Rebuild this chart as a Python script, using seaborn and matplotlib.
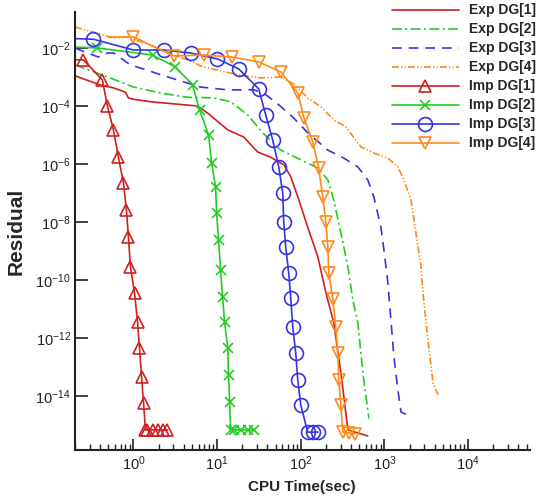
import numpy as np
import pandas as pd
import matplotlib
matplotlib.use("Agg")
import matplotlib.pyplot as plt
import matplotlib.ticker as mticker
import seaborn as sns

# ---- data (CPU time [s], residual) ----
exp1_t = [0.2, 0.40, 0.58, 0.80, 0.87, 1.0, 1.6, 4.0, 5.8, 7.7, 13.4, 20.8, 30.5, 43.7, 63, 76, 95, 121, 160, 200, 248, 302, 366, 632]
exp1_r = [1.1e-3, 5.3e-4, 4.2e-4, 3.0e-4, 1.9e-4, 1.7e-4, 1.4e-4, 1.1e-4, 1.0e-4, 5.7e-5, 1.5e-5, 8.5e-6, 2.6e-6, 1.7e-6, 9.3e-7, 3.6e-7, 5.7e-8, 6.7e-9, 6.3e-10, 3.6e-11, 3.3e-12, 6.3e-14, 6.8e-16, 4.2e-16]

exp2_t = [0.2, 0.49, 1.0, 2.1, 4.4, 9.1, 14.5, 23.2, 35, 57.6, 100, 160, 211, 248, 302, 366, 420, 482, 553, 652]
exp2_r = [2.6e-3, 1.0e-3, 4.5e-4, 2.8e-4, 2.0e-4, 1.9e-4, 1.4e-4, 4.9e-5, 1.2e-5, 3.0e-6, 1.4e-6, 7.3e-7, 2.8e-7, 5.7e-8, 4.2e-9, 2.8e-10, 2.0e-11, 3.3e-12, 6.3e-14, 1.7e-15]

exp3_t = [0.2, 0.28, 0.38, 0.49, 0.58, 0.92, 1.47, 2.1, 4.4, 6.3, 13.4, 27.4, 36, 54.6, 82, 121, 211, 327, 482, 634, 748, 908, 986, 1100, 1300, 1450, 1580, 1910]
exp3_r = [1.0e-2, 6.7e-3, 4.9e-3, 6.7e-3, 6.7e-3, 2.6e-3, 1.7e-3, 1.2e-3, 6.2e-4, 4.5e-4, 3.6e-4, 3.6e-4, 2.8e-4, 1.1e-4, 3.9e-5, 1.2e-5, 3.0e-6, 1.6e-6, 7.9e-7, 2.8e-7, 7.2e-8, 6.7e-9, 1.1e-9, 7.9e-11, 2.2e-13, 1.6e-14, 2.8e-15, 2.2e-15]

exp4_t = [0.2, 0.33, 0.58, 0.85, 1.32, 1.94, 3.0, 5.2, 6.3, 11.0, 20.8, 33.2, 57.6, 82.4, 121, 174, 248, 346, 523, 748, 1100, 1450, 1710, 2080, 2380, 2740, 2890, 3320, 3810, 4370]
exp4_r = [5.3e-2, 3.5e-2, 2.2e-2, 2.4e-2, 1.5e-2, 1.0e-2, 5.7e-3, 3.3e-3, 2.4e-3, 1.6e-3, 1.1e-3, 9.3e-4, 1.0e-3, 5.7e-4, 1.9e-4, 9.3e-5, 3.3e-5, 1.9e-5, 3.9e-6, 2.4e-6, 1.6e-6, 7.9e-7, 2.8e-7, 5.7e-8, 4.2e-9, 2.8e-10, 3.6e-11, 8.5e-13, 2.8e-14, 1.1e-14]

imp1_t = [0.2, 0.252, 0.425, 0.488, 0.576, 0.661, 0.759, 0.824, 0.871, 0.92, 1.03, 1.12, 1.18, 1.25, 1.32, 1.39, 1.47, 1.69, 1.95, 2.24, 2.55]
imp1_r = [3.9e-3, 3.9e-3, 7.9e-4, 1.0e-4, 1.5e-5, 1.7e-6, 2.2e-7, 2.6e-8, 3.0e-9, 2.8e-10, 3.6e-11, 3.5e-12, 4.5e-13, 4.6e-14, 5.8e-15, 6.8e-16, 6.8e-16, 6.8e-16, 6.8e-16, 6.8e-16, 6.8e-16]

imp2_t = [0.2, 0.371, 1.69, 3.18, 5.09, 6.17, 7.91, 8.59, 9.6, 9.86, 10.4, 11.0, 11.6, 12.3, 13.4, 13.7, 14.1, 14.5, 15.8, 19.1, 23.2, 27.4]
imp2_r = [1.08e-2, 1.0e-2, 5.7e-3, 2.2e-3, 5.3e-4, 7.3e-5, 1.0e-5, 1.07e-6, 1.6e-7, 2.0e-8, 2.4e-9, 2.2e-10, 2.6e-11, 3.5e-12, 4.5e-13, 5.3e-14, 6.3e-15, 6.8e-16, 6.8e-16, 6.8e-16, 6.8e-16, 6.8e-16]

imp3_t = [0.2, 0.332, 1.0, 2.29, 4.81, 10.1, 18.1, 31.4, 38.1, 46.2, 54.6, 60.9, 62.6, 66.1, 71.8, 75.9, 80.2, 87.1, 92.1, 100, 121, 139, 160]
imp3_r = [2.1e-2, 2.0e-2, 8.5e-3, 8.5e-3, 6.7e-3, 4.2e-3, 1.9e-3, 3.9e-4, 4.9e-5, 6.7e-6, 7.9e-7, 1.0e-7, 1.0e-8, 1.4e-9, 1.7e-10, 2.4e-11, 2.4e-12, 3.0e-13, 3.5e-14, 4.9e-15, 5.7e-16, 5.7e-16, 5.7e-16]

imp4_t = [0.5, 1.0, 3.01, 6.89, 14.9, 31.4, 57.6, 92.1, 109, 139, 164, 183, 199, 211, 216, 242, 262, 277, 285, 301, 318, 376, 443]
imp4_r = [2.4e-2, 2.4e-2, 5.3e-3, 5.7e-3, 4.9e-3, 3.3e-3, 1.5e-3, 2.8e-4, 3.9e-5, 5.7e-6, 7.3e-7, 7.2e-8, 1.0e-8, 1.4e-9, 1.7e-10, 2.2e-11, 2.4e-12, 3.0e-13, 3.5e-14, 4.9e-15, 5.7e-16, 5.3e-16, 5.0e-16]

RED, GREEN, BLUE, ORANGE = "#D02020", "#22CC22", "#3535E0", "#FF8A1C"

series = [
    ("Exp DG[1]", exp1_t, exp1_r, RED, "-", None, 0),
    ("Exp DG[2]", exp2_t, exp2_r, GREEN, (0, (7, 2.5, 1.5, 2.5)), None, 0),
    ("Exp DG[3]", exp3_t, exp3_r, BLUE, (0, (7, 5)), None, 0),
    ("Exp DG[4]", exp4_t, exp4_r, ORANGE, (0, (5, 1.5, 1, 1.5, 1, 1.5)), None, 0),
    ("Imp DG[1]", imp1_t, imp1_r, RED, "-", "^", 9),
    ("Imp DG[2]", imp2_t, imp2_r, GREEN, "-", "x", 7),
    ("Imp DG[3]", imp3_t, imp3_r, BLUE, "-", "o", 10),
    ("Imp DG[4]", imp4_t, imp4_r, ORANGE, "-", "v", 9),
]

sns.set_style("ticks")
plt.rcParams.update({
    "font.family": ["Liberation Sans", "DejaVu Sans"],
    "mathtext.fontset": "custom",
    "mathtext.rm": "Liberation Sans",
    "mathtext.it": "Liberation Sans:italic",
    "mathtext.bf": "Liberation Sans:bold",
    "lines.scale_dashes": False,
    "xtick.direction": "in",
    "ytick.direction": "in",
})

fig = plt.figure(figsize=(5.38, 4.98), dpi=100)
ax = fig.add_axes([75 / 538, 48 / 498, 455 / 538, 438 / 498])

for label, t, r, col, ls, mk, ms in series:
    df = pd.DataFrame({"t": t, "r": r})
    kw = dict(color=col, linewidth=1.2, linestyle=ls, label=label)
    if mk is not None:
        kw.update(marker=mk, markersize=ms, markerfacecolor="none",
                  markeredgecolor=col, markeredgewidth=1.2,
                  markevery=slice(1, None))
    sns.lineplot(data=df, x="t", y="r", ax=ax, sort=False, estimator=None, **kw)

ax.set_xscale("log")
ax.set_yscale("log")
ax.set_xlim(0.2, 5.5e4)
ax.set_ylim(10 ** -15.86, 10 ** -0.76)

ax.xaxis.set_major_locator(mticker.LogLocator(base=10, numticks=20))
ax.xaxis.set_minor_locator(mticker.LogLocator(base=10, subs=np.arange(2, 10), numticks=20))
ax.xaxis.set_minor_formatter(mticker.NullFormatter())
ax.set_yticks([10.0 ** k for k in range(-14, -1, 2)])
ax.yaxis.set_minor_locator(mticker.NullLocator())

ax.tick_params(axis="x", which="major", length=8, width=1.2, labelsize=10.5, pad=3, colors="#222222")
ax.tick_params(axis="x", which="minor", length=4.5, width=1.0, colors="#222222")
ax.tick_params(axis="y", which="major", length=9, width=1.2, labelsize=10.5, pad=3, colors="#222222")
for s in ["left", "bottom"]:
    ax.spines[s].set_linewidth(1.5)
    ax.spines[s].set_color("#222222")
sns.despine(ax=ax)

ax.set_xlabel("CPU Time(sec)", fontsize=11, fontweight="bold")
ax.set_ylabel("Residual", fontsize=15, fontweight="bold")
ax.xaxis.set_label_coords(0.499, -0.068)
ax.yaxis.set_label_coords(-0.108, 0.5)

leg = ax.legend(loc="upper right", bbox_to_anchor=(0.998, 0.996), bbox_transform=fig.transFigure,
                frameon=False, prop={"size": 10, "weight": "bold"}, handlelength=4.8,
                handletextpad=0.7, labelspacing=0.36, borderpad=0.1, borderaxespad=0)

fig.savefig("out.png", dpi=100)
